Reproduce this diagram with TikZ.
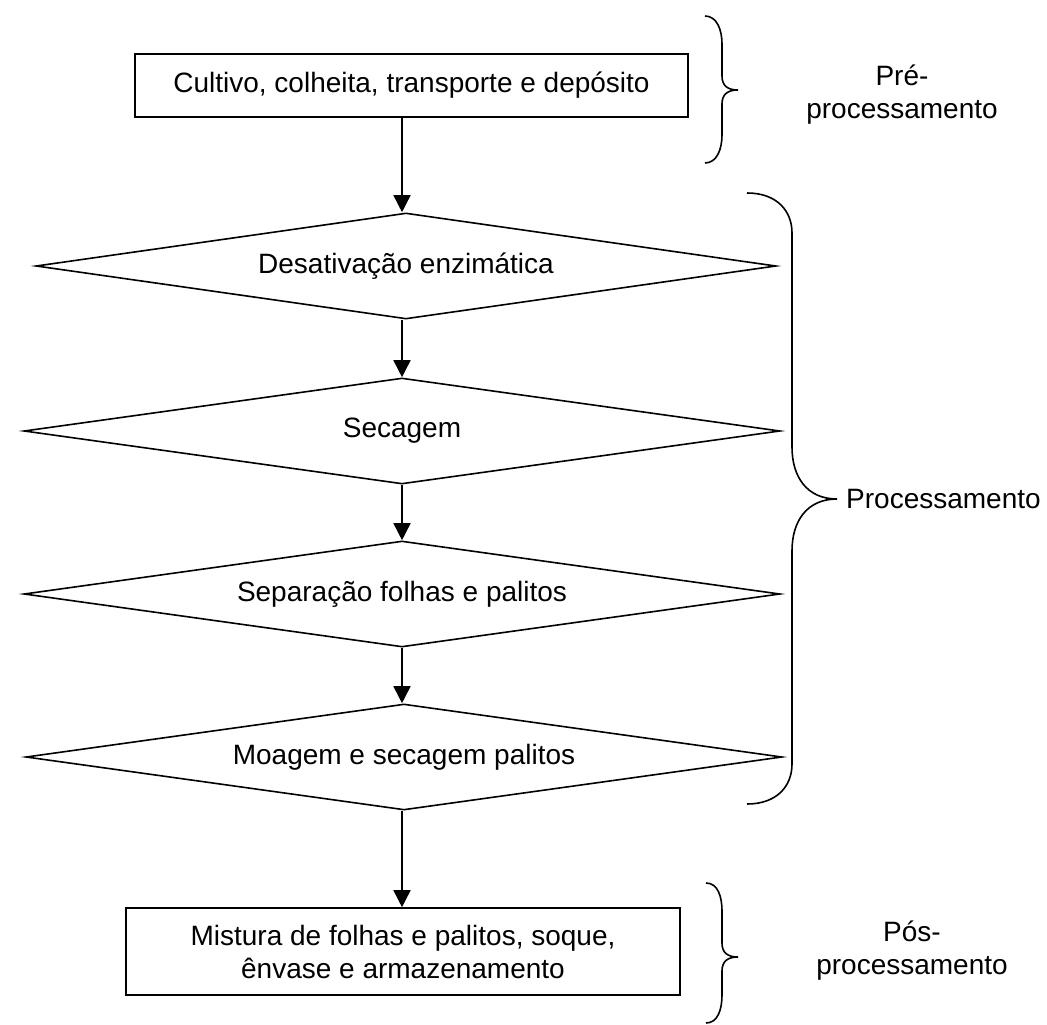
\documentclass[tikz,border=0pt]{standalone}
\usepackage{fontspec}
\setmainfont{Liberation Sans}
\usepackage{tikz}
\usetikzlibrary{arrows.meta,positioning,shapes.geometric}
\tikzset{
  stage/.style={rectangle,draw=black,line width=1.6pt,fill=white,
    align=center,inner sep=0pt,font=\fontsize{28}{33}\selectfont},
  decision/.style={diamond,aspect=7,draw=black,line width=1.6pt,inner sep=0pt,
    minimum width=756pt,minimum height=106pt,align=center,
    font=\fontsize{28}{33}\selectfont},
  phase/.style={align=center,inner sep=0pt,font=\fontsize{28}{33}\selectfont},
  arrow/.style={-{Triangle[length=17pt,width=17pt]},line width=1.6pt,draw=black},
  brc/.style={line width=1.6pt,draw=black}
}
\begin{document}
\begin{tikzpicture}[x=1pt,y=-1pt]
\useasboundingbox (0,0) rectangle (1047,1025);
\node[stage,minimum width=553pt,minimum height=63pt] (cult) at (411.5,85.5) {Cultivo, colheita, transporte e depósito};
\node[decision,minimum width=740pt] (d1) at (406,266) {Desativação enzimática};
\node[decision] (d2) at (402,431) {Secagem};
\node[decision] (d3) at (402,594) {Separação folhas e palitos};
\node[decision] (d4) at (404,757) {Moagem e secagem palitos};
\node[stage,minimum width=554pt,minimum height=87pt] (mist) at (403,951.5) {Mistura de folhas e palitos, soque,\\ênvase e armazenamento};
\draw[arrow] (d2.north |- cult.south) -- (d2.north |- d1.north);
\draw[arrow] (d2.north |- d1.south) -- (d2.north);
\draw[arrow] (d2.south) -- (d2.south |- d3.north);
\draw[arrow] (d2.south |- d3.south) -- (d2.south |- d4.north);
\draw[arrow] (d2.south |- d4.south) -- (d2.south |- mist.north);
% braces
\coordinate (preT) at (705,16);
\coordinate (procT) at (747,193);
\coordinate (posT) at (706,883);
\draw[brc] (preT) .. controls +(12,0) and +(0,-14) .. ++(17,28) -- ++(0,32)
  .. controls +(0,10) and +(-10,0) .. ++(16,14) .. controls +(-10,0) and +(0,-10) .. ++(-16,14)
  -- ++(0,31) .. controls +(0,14) and +(12,0) .. ++(-17,28);
\draw[brc] (procT) .. controls +(30,0) and +(0,-22) .. ++(45,40) -- ++(0,214)
  .. controls +(0,30) and +(-30,0) .. ++(45,52) .. controls +(-30,0) and +(0,-30) .. ++(-45,52)
  -- ++(0,213) .. controls +(0,22) and +(30,0) .. ++(-45,40);
\draw[brc] (posT) .. controls +(12,0) and +(0,-14) .. ++(16,28) -- ++(0,32)
  .. controls +(0,10) and +(-10,0) .. ++(16,14) .. controls +(-10,0) and +(0,-10) .. ++(-16,14)
  -- ++(0,24) .. controls +(0,14) and +(12,0) .. ++(-16,28);
\node[phase] (pre) at (902,95) {Pré-\\processamento};
\node[phase,anchor=west] (proc) at (846,499) {Processamento};
\node[phase] (pos) at (912,951) {Pós-\\processamento};
\end{tikzpicture}
\end{document}
